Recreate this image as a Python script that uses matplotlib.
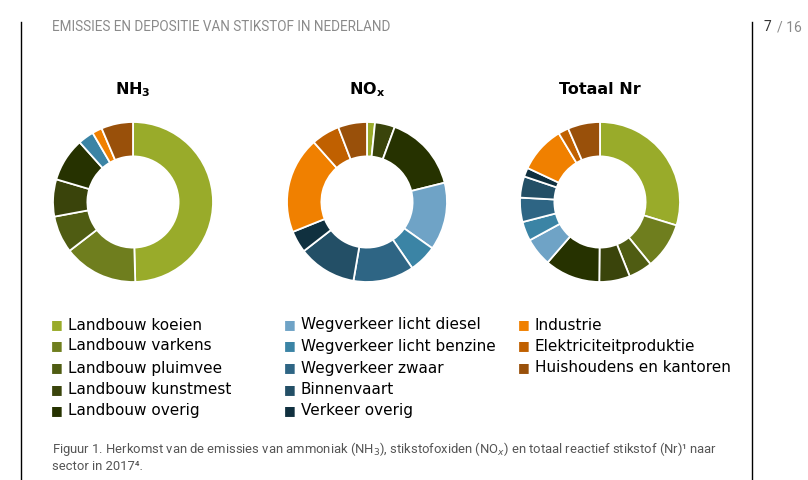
import matplotlib
matplotlib.use("Agg")
import matplotlib.pyplot as plt
from matplotlib.lines import Line2D

# sectoren en kleuren
sectoren = ['Landbouw koeien', 'Landbouw varkens', 'Landbouw pluimvee',
            'Landbouw kunstmest', 'Landbouw overig',
            'Wegverkeer licht diesel', 'Wegverkeer licht benzine',
            'Wegverkeer zwaar', 'Binnenvaart', 'Verkeer overig',
            'Industrie', 'Elektriciteitproduktie', 'Huishoudens en kantoren']
kleuren = ['#99ab2a', '#6f7e1e', '#4f5c12', '#3a440b', '#263200',
           '#6fa3c6', '#3b84a5', '#2e6584', '#234f66', '#10303f',
           '#f08000', '#c06000', '#99500a']

# aandeel per sector (%), 2017
nh3 = [49.5, 15.0, 7.5, 7.5, 8.8, 0, 3.2, 0, 0, 0, 2.0, 0, 6.4]
nox = [1.6, 0, 0, 4.0, 15.4, 13.6, 5.6, 12.2, 11.7, 4.4, 19.4, 5.7, 5.8]
totaal = [29.7, 9.4, 4.8, 6.2, 11.2, 5.7, 3.9, 4.9, 4.3, 1.8, 9.4, 2.1, 6.5]

titels = ['NH$_\\mathbf{3}$', 'NO$_\\mathbf{x}$', 'Totaal Nr']
reeksen = [nh3, nox, totaal]
centra_x = [133, 367, 600]

W, H = 808, 480
smal = ['Roboto', 'DejaVu Sans']
fig = plt.figure(figsize=(W / 100, H / 100), dpi=100)

# kopregel en kaderlijnen
fig.add_artist(Line2D([21 / W, 21 / W], [0, 1 - 22 / H], color='black', lw=1))
fig.add_artist(Line2D([752 / W, 752 / W], [0, 1 - 22 / H], color='black', lw=1))
fig.text(52 / W, 1 - 27 / H, 'EMISSIES EN DEPOSITIE VAN STIKSTOF IN NEDERLAND',
         family=smal, fontsize=9.75, color='#8a8a8a', va='center', ha='left')
fig.text(764 / W, 1 - 27 / H, '7', family=smal,
         fontsize=10, color='#333333', va='center', ha='left')
fig.text(777 / W, 1 - 27 / H, '/ 16', family=smal,
         fontsize=10, color='#8a8a8a', va='center', ha='left')

r_px = 80
for titel, waarden, cx in zip(titels, reeksen, centra_x):
    ax = fig.add_axes([(cx - r_px) / W, (H - 202 - r_px) / H, 2 * r_px / W, 2 * r_px / H])
    v = [w for w in waarden if w > 0]
    c = [k for w, k in zip(waarden, kleuren) if w > 0]
    ax.pie(v, colors=c, startangle=90, counterclock=False, radius=1,
           wedgeprops=dict(width=0.43, edgecolor='white', linewidth=1.3))
    ax.set_xlim(-1, 1)
    ax.set_ylim(-1, 1)
    ax.set_aspect('equal')
    ax.axis('off')
    fig.text(cx / W, 1 - 90 / H, titel, ha='center', va='center',
             fontsize=11.5, fontweight='bold', color='black')

# legenda in drie kolommen
kol_x = [57, 290, 524]
rij_y = [325, 346, 368, 390, 411]
posities = [(0, i) for i in range(5)] + [(1, i) for i in range(5)] + [(2, i) for i in range(3)]
for naam, kleur, (k, r) in zip(sectoren, kleuren, posities):
    x = kol_x[k]
    y = 1 - rij_y[r] / H
    fig.text(x / W, y, '\u25a0', color=kleur, fontsize=9, ha='center', va='center')
    fig.text((x + 11) / W, y, naam, fontsize=11, color='black', ha='left', va='center')

fig.text(52 / W, 1 - 449 / H,
         'Figuur 1. Herkomst van de emissies van ammoniak (NH$_3$), stikstofoxiden (NO$_x$) '
         'en totaal reactief stikstof (Nr)\u00b9 naar',
         family=smal, fontsize=9.4, color='#555555', ha='left', va='center')
fig.text(52 / W, 1 - 466 / H, 'sector in 2017\u2074.',
         family=smal, fontsize=9.4, color='#555555', ha='left', va='center')

fig.savefig('out.png', dpi=100, facecolor='white')
